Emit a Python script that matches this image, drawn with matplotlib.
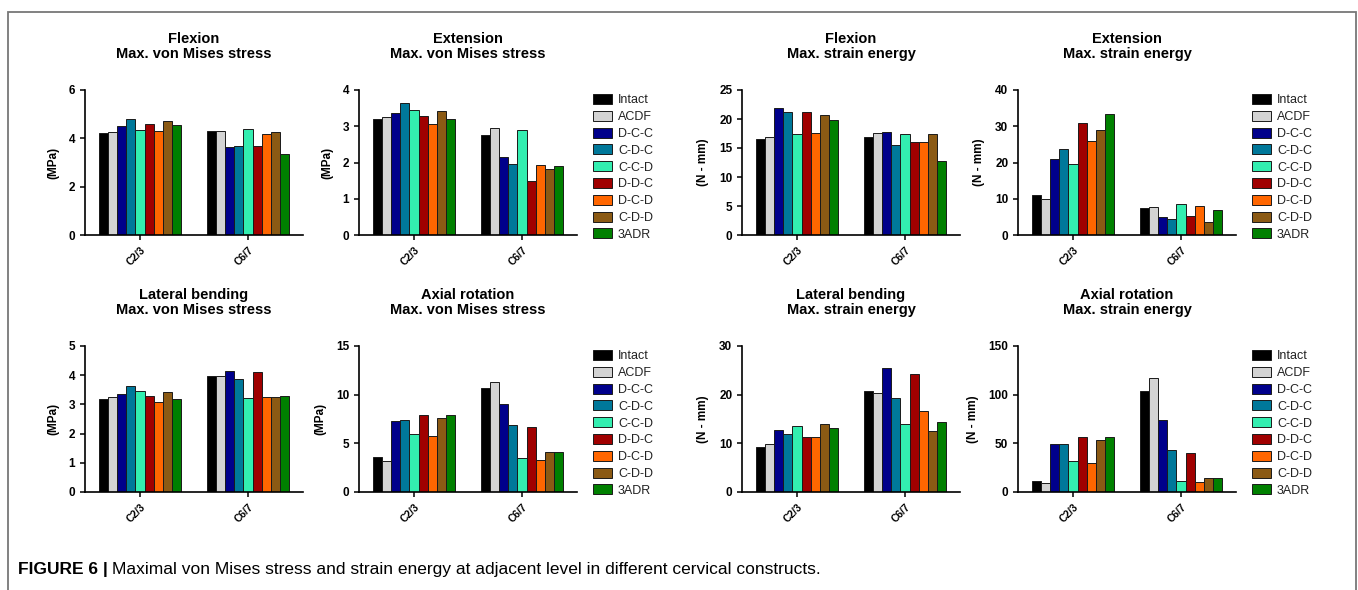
#!/usr/bin/env python3

from __future__ import annotations

import matplotlib

matplotlib.use("Agg")
import matplotlib.pyplot as plt
import numpy as np
from matplotlib.patches import Patch, Rectangle

plt.rcParams["font.family"] = ["Liberation Sans", "DejaVu Sans"]

levels = ["C2/3", "C6/7"]
constructs = ["Intact", "ACDF", "D-C-C", "C-D-C", "C-C-D", "D-D-C", "D-C-D", "C-D-D", "3ADR"]
colors = ["#000000", "#d3d3d3", "#00008b", "#00789a", "#33eeb0", "#a00000", "#ff6600", "#8b5a14", "#008000"]

# values per construct: [C2/3, C6/7]
flex_vm = [[4.21, 4.30], [4.25, 4.30], [4.51, 3.66], [4.79, 3.70], [4.34, 4.37],
           [4.58, 3.68], [4.30, 4.19], [4.73, 4.28], [4.57, 3.35]]
ext_vm = [[3.19, 2.75], [3.26, 2.96], [3.36, 2.16], [3.65, 1.95], [3.45, 2.90],
          [3.29, 1.48], [3.05, 1.93], [3.43, 1.81], [3.19, 1.89]]
flex_se = [[16.55, 16.9], [16.84, 17.6], [21.9, 17.7], [21.15, 15.6], [17.5, 17.4],
           [21.26, 16.0], [17.64, 16.0], [20.7, 17.4], [19.8, 12.8]]
ext_se = [[11.1, 7.4], [9.8, 7.8], [20.9, 5.1], [23.8, 4.5], [19.6, 8.6],
          [31.0, 5.3], [25.9, 8.0], [29.0, 3.7], [33.3, 6.9]]
lat_vm = [[3.19, 3.98], [3.27, 3.98], [3.36, 4.14], [3.64, 3.88], [3.47, 3.22],
          [3.30, 4.11], [3.08, 3.24], [3.41, 3.24], [3.19, 3.28]]
axial_vm = [[3.6, 10.7], [3.2, 11.3], [7.3, 9.06], [7.4, 6.9], [6.0, 3.5],
            [7.9, 6.7], [5.8, 3.3], [7.65, 4.1], [7.9, 4.1]]
lat_se = [[9.3, 20.7], [9.8, 20.4], [12.8, 25.5], [12.0, 19.4], [13.6, 13.9],
          [11.2, 24.2], [11.4, 16.7], [13.9, 12.6], [13.2, 14.4]]
axial_se = [[11.7, 104.0], [9.3, 116.7], [49.1, 74.1], [49.8, 43.6], [31.9, 11.0],
            [56.6, 40.5], [29.9, 10.0], [53.2, 14.8], [56.0, 14.8]]

panels = [
    ("Flexion\nMax. von Mises stress", "(MPa)", flex_vm, 6, 2),
    ("Extension\nMax. von Mises stress", "(MPa)", ext_vm, 4, 1),
    ("Flexion\nMax. strain energy", "(N - mm)", flex_se, 25, 5),
    ("Extension\nMax. strain energy", "(N - mm)", ext_se, 40, 10),
    ("Lateral bending\nMax. von Mises stress", "(MPa)", lat_vm, 5, 1),
    ("Axial rotation\nMax. von Mises stress", "(MPa)", axial_vm, 15, 5),
    ("Lateral bending\nMax. strain energy", "(N - mm)", lat_se, 30, 10),
    ("Axial rotation\nMax. strain energy", "(N - mm)", axial_se, 150, 50),
]

W, H = 1358, 590
fig = plt.figure(figsize=(W / 100, H / 100), dpi=100)

# frame around the figure
fig.patches.append(Rectangle((8 / W, -0.05), (1356 - 8) / W, 1.05 - 12 / H,
                             transform=fig.transFigure, fill=False,
                             edgecolor="#777777", linewidth=1.3))

col_x = [85, 359, 742, 1018]
rows = [(90, 235), (346, 492)]
ax_w = 218
legend_x = [593, 1252]

bar_w = 0.0844
x = np.arange(len(levels))

for k, (title, ylabel, vals, ymax, ystep) in enumerate(panels):
    row, col = divmod(k, 4)
    top, bottom = rows[row]
    ax = fig.add_axes([col_x[col] / W, 1 - bottom / H, ax_w / W, (bottom - top) / H])
    for i, (name, c) in enumerate(zip(constructs, colors)):
        ax.bar(x + (i - 4) * bar_w, vals[i], width=bar_w, color=c,
               edgecolor="#1a1a1a", linewidth=0.7)
    ax.set_xlim(-0.51, 1.51)
    ax.set_ylim(0, ymax)
    ax.set_yticks(np.arange(0, ymax + ystep / 2, ystep))
    ax.set_xticks(x)
    ax.set_xticklabels(levels, rotation=45, ha="right", rotation_mode="anchor",
                       fontsize=7.5, fontweight="bold")
    ax.tick_params(axis="y", labelsize=8.5, width=1.1, length=3.5)
    ax.tick_params(axis="x", width=1.1, length=3.5)
    for lab in ax.get_yticklabels():
        lab.set_fontweight("bold")
    for s in ("top", "right"):
        ax.spines[s].set_visible(False)
    for s in ("left", "bottom"):
        ax.spines[s].set_linewidth(1.2)
    ax.set_title(title, fontsize=10.5, fontweight="bold", pad=23, linespacing=1.1)
    ax.set_ylabel(ylabel, fontsize=8.5, fontweight="bold", labelpad=7)

handles = [Patch(facecolor=c, edgecolor="#1a1a1a", linewidth=0.7) for c in colors]
for top, _ in rows:
    for lx in legend_x:
        fig.legend(handles, constructs, loc="upper left",
                   bbox_to_anchor=(lx / W, 1 - (top + 4) / H),
                   frameon=False, fontsize=9, handlelength=1.5, handleheight=0.85,
                   handletextpad=0.5, labelspacing=0.36, borderaxespad=0, borderpad=0,
                   labelcolor="#222222")

t1 = fig.text(18 / W, 1 - 574 / H, "FIGURE 6 |", fontsize=12.5, fontweight="bold",
              va="baseline", ha="left")
fig.canvas.draw()
bb = t1.get_window_extent(renderer=fig.canvas.get_renderer())
fig.text((bb.x1 + 4) / W, 1 - 574 / H,
         "Maximal von Mises stress and strain energy at adjacent level in different cervical constructs.",
         fontsize=12.5, va="baseline", ha="left")

fig.savefig("out.png", dpi=100)
